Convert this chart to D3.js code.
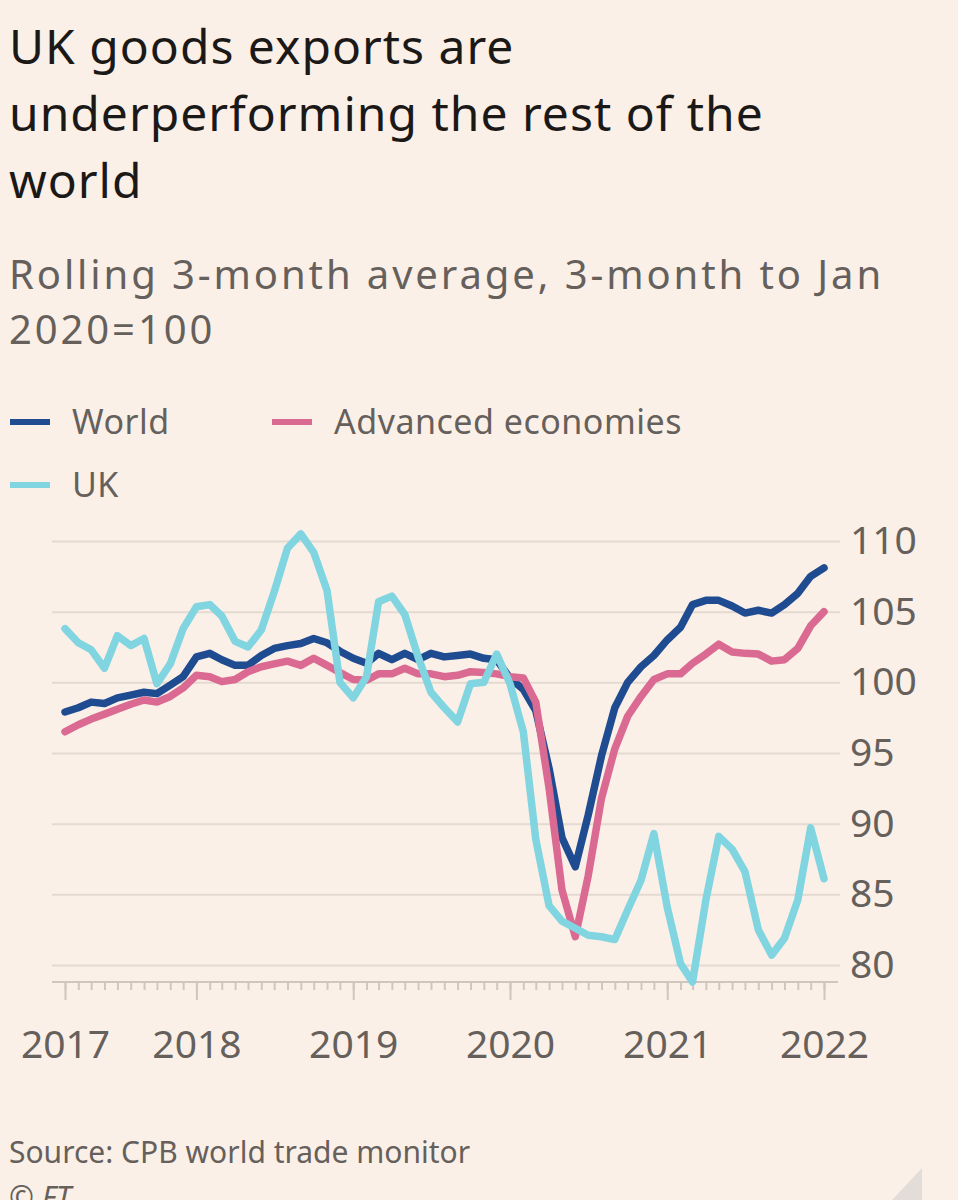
<!DOCTYPE html>
<html>
<head>
<meta charset="utf-8">
<script src="https://cdn.jsdelivr.net/npm/d3@7"></script>
<style>
    body { margin: 0; background: #fbf0e7; }
    svg { display: block; font-family: "Noto Sans", sans-serif; }
</style>
</head>
<body>
<svg width="958" height="1200"></svg>
<script>
// I. Data

// first month shown, then one value per month up to Jan 2022
let debut = new Date(2017, 2, 1);
let fin = new Date(2022, 0, 1);

let world = [97.9, 98.2, 98.6, 98.5, 98.9, 99.1, 99.3, 99.2, 99.8, 100.4,
    101.8, 102.05, 101.6, 101.2, 101.2, 101.9, 102.4, 102.6, 102.75, 103.1,
    102.8, 102.2, 101.7, 101.35, 102.05, 101.6, 102.05, 101.6, 102.05, 101.8,
    101.9, 102.0, 101.7, 101.6, 100.3, 99.5, 98.0, 93.9, 89.0, 86.95,
    90.6, 94.8, 98.2, 100.0, 101.1, 101.9, 103.0, 103.9, 105.5, 105.8,
    105.8, 105.4, 104.9, 105.1, 104.9, 105.5, 106.3, 107.5, 108.1];

let advanced = [96.5, 97.0, 97.4, 97.75, 98.1, 98.45, 98.75, 98.6, 99.0, 99.6,
    100.5, 100.4, 100.05, 100.2, 100.75, 101.1, 101.3, 101.5, 101.2, 101.7,
    101.2, 100.7, 100.2, 100.15, 100.6, 100.6, 101.0, 100.6, 100.6, 100.4,
    100.5, 100.75, 100.7, 100.6, 100.4, 100.3, 98.6, 92.5, 85.3, 82.0,
    86.3, 91.8, 95.3, 97.6, 99.0, 100.2, 100.6, 100.6, 101.35, 102.0,
    102.7, 102.15, 102.05, 102.0, 101.5, 101.6, 102.4, 104.0, 105.0];

let uk = [103.8, 102.8, 102.3, 101.0, 103.3, 102.6, 103.1, 99.9, 101.3, 103.8,
    105.35, 105.5, 104.7, 102.9, 102.5, 103.7, 106.4, 109.5, 110.5, 109.2,
    106.5, 100.0, 98.9, 100.4, 105.7, 106.1, 104.8, 101.8, 99.3, 98.2,
    97.2, 99.9, 100.0, 102.0, 99.9, 96.5, 88.9, 84.2, 83.1, 82.6,
    82.1, 82.0, 81.8, 83.9, 86.0, 89.3, 84.1, 80.1, 78.8, 84.6,
    89.1, 88.2, 86.6, 82.5, 80.7, 81.9, 84.6, 89.7, 86.1];

let series = [
    { nom: "World", valeurs: world, couleur: "#1f4b91" },
    { nom: "Advanced economies", valeurs: advanced, couleur: "#da6a92" },
    { nom: "UK", valeurs: uk, couleur: "#80d5e0" }
];

let yTicks = [80, 85, 90, 95, 100, 105, 110];
let annees = [2017, 2018, 2019, 2020, 2021, 2022];

// II. Drawing

let svg = d3.select("svg");

let mois = d3.timeMonth.range(debut, d3.timeMonth.offset(fin, 1));

let x = d3.scaleTime()
    .domain([debut, fin])
    .range([65, 824]);

let y = d3.scaleLinear()
    .domain([80, 110])
    .range([965, 541]);

// Titles
let titre = ["UK goods exports are", "underperforming the rest of the", "world"];
svg.append("g").selectAll("text")
    .data(titre)
    .enter()
    .append("text")
    .attr("x", 9)
    .attr("y", (d, i) => 64 + i * 67)
    .attr("fill", "#1b1918")
    .style("font-size", "48px")
    .style("letter-spacing", "1px")
    .text(d => d);

let sousTitre = ["Rolling 3-month average, 3-month to Jan", "2020=100"];
svg.append("g").selectAll("text")
    .data(sousTitre)
    .enter()
    .append("text")
    .attr("x", 9)
    .attr("y", (d, i) => 289 + i * 55)
    .attr("fill", "#66605c")
    .style("font-size", "40px")
    .style("letter-spacing", "2.9px")
    .text(d => d);

// Legend
let legende = [
    { s: series[0], x: 10, y: 422 },
    { s: series[1], x: 272, y: 422 },
    { s: series[2], x: 10, y: 485 }
];
let leg = svg.append("g").selectAll("g")
    .data(legende)
    .enter()
    .append("g")
    .attr("transform", d => `translate(${d.x},${d.y})`);

leg.append("line")
    .attr("x1", 0)
    .attr("x2", 40)
    .attr("stroke", d => d.s.couleur)
    .attr("stroke-width", 6);

leg.append("text")
    .attr("x", 62)
    .attr("y", 12)
    .attr("fill", "#66605c")
    .style("font-size", "34px")
    .style("letter-spacing", "0.5px")
    .text(d => d.s.nom);

// Y axis with gridlines
let axeY = svg.append("g")
    .attr("transform", "translate(840,0)")
    .call(d3.axisRight(y)
        .tickValues(yTicks)
        .tickSize(-788)
        .tickPadding(10));

axeY.select(".domain").remove();
axeY.selectAll("line")
    .attr("stroke", "#e3dad1")
    .attr("stroke-width", 2);
axeY.selectAll("text")
    .attr("fill", "#66605c")
    .style("font-size", "39px")
    .style("font-family", "Noto Sans, sans-serif");

// X axis: monthly minor ticks
let axeX = svg.append("g")
    .attr("transform", "translate(0,982)")
    .call(d3.axisBottom(x)
        .tickValues(mois)
        .tickSize(8)
        .tickFormat(""));

axeX.select(".domain")
    .attr("d", "M52,0H838")
    .attr("stroke", "#cfc6bd")
    .attr("stroke-width", 2);
axeX.selectAll("line")
    .attr("stroke", "#cfc6bd")
    .attr("stroke-width", 2);

// year ticks, the first one is the start of the series
let datesAnnees = annees.map((a, i) => i == 0 ? debut : new Date(a, 0, 1));
let axeAnnees = svg.append("g")
    .attr("transform", "translate(0,982)")
    .call(d3.axisBottom(x)
        .tickValues(datesAnnees)
        .tickSize(18)
        .tickPadding(30)
        .tickFormat((d, i) => annees[i]));

axeAnnees.select(".domain").remove();
axeAnnees.selectAll("line")
    .attr("stroke", "#cfc6bd")
    .attr("stroke-width", 2);
axeAnnees.selectAll("text")
    .attr("fill", "#66605c")
    .style("font-size", "39px")
    .style("font-family", "Noto Sans, sans-serif");

// Lines
let ligne = d3.line()
    .x((d, i) => x(mois[i]))
    .y(d => y(d));

svg.append("g").selectAll("path")
    .data(series)
    .enter()
    .append("path")
    .attr("d", d => ligne(d.valeurs))
    .attr("fill", "none")
    .attr("stroke", d => d.couleur)
    .attr("stroke-width", 7.5)
    .attr("stroke-linejoin", "round")
    .attr("stroke-linecap", "round");

// Source
svg.append("text")
    .attr("x", 9)
    .attr("y", 1163)
    .attr("fill", "#66605c")
    .style("font-size", "30px")
    .text("Source: CPB world trade monitor");

svg.append("text")
    .attr("x", 9)
    .attr("y", 1208)
    .attr("fill", "#66605c")
    .style("font-size", "30px")
    .style("font-style", "italic")
    .text("© FT");

// page corner
svg.append("path")
    .attr("d", "M922,1168L922,1200L892,1200Z")
    .attr("fill", "#e2ddd8");
</script>
</body>
</html>
